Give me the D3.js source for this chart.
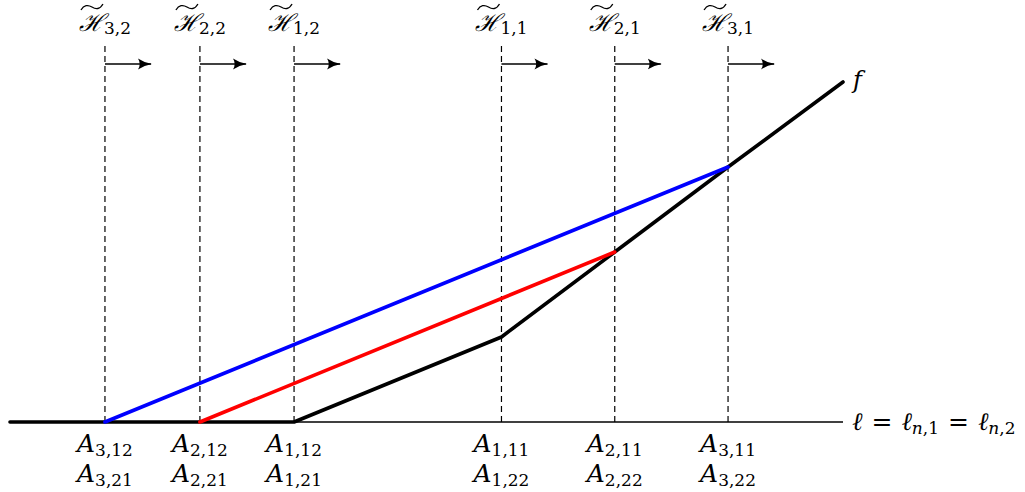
<!DOCTYPE html>
<html>
<head>
<meta charset="utf-8">
<script src="https://cdn.jsdelivr.net/npm/d3@7"></script>
<style>
  body { margin: 0; background: #fff; }
  svg { display: block; }
  text { font-family: 'DejaVu Serif', 'Liberation Serif', serif; fill: #000; }
</style>
</head>
<body>
<svg width="1025" height="492"></svg>
<script>
'use strict'

// break points along the base line ℓ (left to right)
const breaks = [1.14, 2.28, 3.41, 5.9, 7.26, 8.62];
const topSubs = ['3,2', '2,2', '1,2', '1,1', '2,1', '3,1'];
const bottomSubs1 = ['3,12', '2,12', '1,12', '1,11', '2,11', '3,11'];
const bottomSubs2 = ['3,21', '2,21', '1,21', '1,22', '2,22', '3,22'];

// f, piecewise linear
const fX = [0, 3.41, 5.9, 7.26, 8.62, 10];
const fY = [0, 0, 1, 2, 3, 4];

// chords
const blueX = [1.14, 8.62];
const blueY = [0, 3];
const redX = [2.28, 7.26];
const redY = [0, 2];

const X_MAX = 10;
const Y_MAX = 4;

const svg = d3.select('svg');

const x = d3.scaleLinear().domain([0, X_MAX]).range([10, 843]);
const y = d3.scaleLinear().domain([0, Y_MAX]).range([422, 82]);

const line = d3.line().x(d => x(d[0])).y(d => y(d[1]));
const zip = (a, b) => a.map((v, i) => [v, b[i]]);

svg.append('defs').append('marker')
  .attr('id', 'head')
  .attr('viewBox', '0 0 14 12')
  .attr('refX', 13).attr('refY', 6)
  .attr('markerWidth', 14).attr('markerHeight', 12)
  .attr('markerUnits', 'userSpaceOnUse')
  .attr('orient', 'auto')
  .append('path')
  .attr('d', 'M0,0.5 Q6,4.6 14,6 Q6,7.4 0,11.5 Q3.5,6 0,0.5 Z')
  .attr('fill', '#000');

// dashed verticals
svg.selectAll('line.v')
  .data(breaks)
  .join('line')
  .attr('class', 'v')
  .attr('x1', d => x(d)).attr('x2', d => x(d))
  .attr('y1', 46).attr('y2', y(0))
  .attr('stroke', '#000')
  .attr('stroke-width', 1.2)
  .attr('stroke-dasharray', '6,4');

// arrows
svg.selectAll('line.arrow')
  .data(breaks)
  .join('line')
  .attr('class', 'arrow')
  .attr('x1', d => x(d)).attr('x2', d => x(d) + 46)
  .attr('y1', 64).attr('y2', 64)
  .attr('stroke', '#000')
  .attr('stroke-width', 1.3)
  .attr('marker-end', 'url(#head)');

// base line
svg.append('line')
  .attr('x1', x(0)).attr('x2', x(X_MAX))
  .attr('y1', y(0)).attr('y2', y(0))
  .attr('stroke', '#000')
  .attr('stroke-width', 1.4);

svg.append('path')
  .attr('d', line(zip(fX, fY)))
  .attr('fill', 'none')
  .attr('stroke', '#000')
  .attr('stroke-width', 3.6)
  .attr('stroke-linecap', 'round')
  .attr('stroke-linejoin', 'round');

svg.append('path')
  .attr('d', line(zip(redX, redY)))
  .attr('fill', 'none')
  .attr('stroke', '#ff0000')
  .attr('stroke-width', 3.6)
  .attr('stroke-linecap', 'round');

svg.append('path')
  .attr('d', line(zip(blueX, blueY)))
  .attr('fill', 'none')
  .attr('stroke', '#0000ff')
  .attr('stroke-width', 3.6)
  .attr('stroke-linecap', 'round');

// top labels
const topG = svg.selectAll('g.top')
  .data(breaks)
  .join('g')
  .attr('class', 'top')
  .attr('transform', d => `translate(${x(d)},0)`);

const topText = topG.append('text')
  .attr('y', 31)
  .attr('text-anchor', 'middle');
topText.append('tspan')
  .attr('font-size', 24)
  .attr('font-style', 'italic')
  .text('\u210B');
topText.append('tspan')
  .attr('font-size', 17)
  .attr('dy', 3)
  .text((d, i) => topSubs[i]);

// wide tilde drawn as a path over each H
topG.append('path')
  .attr('d', 'M-24,10 C-21,5 -17,4.5 -13,7 C-9,9.5 -5,9.5 -2,4')
  .attr('fill', 'none')
  .attr('stroke', '#000')
  .attr('stroke-width', 1.3);

// bottom labels
function bottomRow(subs, yy) {
  const t = svg.append('g').selectAll('text')
    .data(breaks)
    .join('text')
    .attr('x', d => x(d))
    .attr('y', yy)
    .attr('text-anchor', 'middle');
  t.append('tspan')
    .attr('font-size', 25)
    .attr('font-style', 'italic')
    .text('A');
  t.append('tspan')
    .attr('font-size', 17)
    .attr('dy', 4)
    .text((d, i) => subs[i]);
}
bottomRow(bottomSubs1, 452);
bottomRow(bottomSubs2, 482);

// f label
svg.append('text')
  .attr('x', x(X_MAX) + 10).attr('y', y(Y_MAX) + 6)
  .attr('font-size', 24)
  .attr('font-style', 'italic')
  .text('f');

// base line label
const lt = svg.append('text')
  .attr('x', x(X_MAX) + 9).attr('y', y(0) + 8)
  .attr('font-size', 25);
lt.append('tspan').attr('font-style', 'italic').text('\u2113');
lt.append('tspan').attr('dx', 9).text('=');
lt.append('tspan').attr('dx', 9).attr('font-style', 'italic').text('\u2113');
lt.append('tspan').attr('font-size', 17).attr('font-style', 'italic').attr('dy', 4).text('n');
lt.append('tspan').attr('font-size', 17).text(',1');
lt.append('tspan').attr('dy', -4).attr('dx', 9).text('=');
lt.append('tspan').attr('dx', 9).attr('font-style', 'italic').text('\u2113');
lt.append('tspan').attr('font-size', 17).attr('font-style', 'italic').attr('dy', 4).text('n');
lt.append('tspan').attr('font-size', 17).text(',2');
</script>
</body>
</html>
